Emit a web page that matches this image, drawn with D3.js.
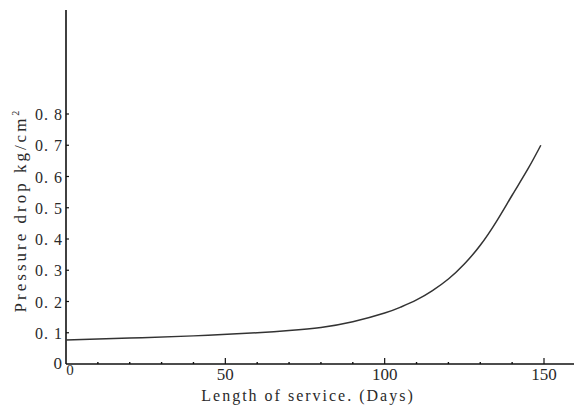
<!DOCTYPE html>
<html>
<head>
<meta charset="utf-8">
<script src="https://cdn.jsdelivr.net/npm/d3@7"></script>
<style>
  body { margin: 0; background: #fff; }
  text { font-family: "Liberation Serif", "DejaVu Serif", serif; fill: #2a2a2a; }
</style>
</head>
<body>
<div class="chart"></div>
<script>
// values
const days = [0, 20, 40, 60, 70, 80, 90, 100, 105, 110, 115, 120, 125, 130, 135, 140, 145, 149];
const pressure = [0.077, 0.083, 0.09, 0.1, 0.107, 0.117, 0.135, 0.163, 0.182, 0.205, 0.235, 0.272, 0.32, 0.38, 0.455, 0.54, 0.625, 0.70];
const yTicks = [0.1, 0.2, 0.3, 0.4, 0.5, 0.6, 0.7, 0.8];
const xMajor = [50, 100, 150];
const xMinor = [10, 20, 30, 40, 60, 70, 80, 90, 110, 120, 130, 140];

const width = 574, height = 405;
const x0 = 66, y0 = 364;

const xScale = d3.scaleLinear().domain([0, 150]).range([x0, 544]);
const yScale = d3.scaleLinear().domain([0, 0.8]).range([y0, 114]);

const svg = d3.select(".chart").append("svg")
  .attr("width", width)
  .attr("height", height);

// axis lines
svg.append("line")
  .attr("x1", x0).attr("x2", x0)
  .attr("y1", 10).attr("y2", y0)
  .attr("stroke", "#111").attr("stroke-width", 1.6);
svg.append("line")
  .attr("x1", x0).attr("x2", width)
  .attr("y1", y0).attr("y2", y0)
  .attr("stroke", "#111").attr("stroke-width", 1.6);

// y ticks, pointing inward
svg.append("g").selectAll("line")
  .data(yTicks)
  .join("line")
  .attr("x1", x0).attr("x2", x0 + 3)
  .attr("y1", d => yScale(d)).attr("y2", d => yScale(d))
  .attr("stroke", "#111").attr("stroke-width", 1.2);

svg.append("g").selectAll("text")
  .data(yTicks)
  .join("text")
  .attr("x", x0 - 3)
  .attr("y", d => yScale(d) + 6)
  .attr("text-anchor", "end")
  .style("font-size", "16px")
  .style("letter-spacing", "1px")
  .text(d => d3.format(".1f")(d).replace(".", ". "));

// the two zeros at the origin
svg.append("text")
  .attr("x", x0 - 4).attr("y", y0 + 5)
  .attr("text-anchor", "end")
  .style("font-size", "17px")
  .text("0");
svg.append("text")
  .attr("x", x0 + 4).attr("y", y0 + 11)
  .attr("text-anchor", "middle")
  .style("font-size", "15px")
  .text("0");

// x ticks
svg.append("g").selectAll("line")
  .data(xMajor)
  .join("line")
  .attr("x1", d => xScale(d)).attr("x2", d => xScale(d))
  .attr("y1", y0).attr("y2", y0 - 6)
  .attr("stroke", "#111").attr("stroke-width", 1.2);

svg.append("g").selectAll("line")
  .data(xMinor)
  .join("line")
  .attr("x1", d => xScale(d)).attr("x2", d => xScale(d))
  .attr("y1", y0).attr("y2", y0 - 2)
  .attr("stroke", "#111").attr("stroke-width", 1.4);

svg.append("g").selectAll("text")
  .data(xMajor)
  .join("text")
  .attr("x", d => xScale(d))
  .attr("y", y0 + 16)
  .attr("text-anchor", "middle")
  .style("font-size", "17px")
  .text(d => d);

// axis titles
svg.append("text")
  .attr("x", 308).attr("y", 401)
  .attr("text-anchor", "middle")
  .style("font-size", "16px")
  .style("letter-spacing", "2px")
  .text("Length of  service. (Days)");

svg.append("text")
  .attr("transform", "translate(26,210) rotate(-90)")
  .attr("text-anchor", "middle")
  .style("font-size", "17px")
  .style("letter-spacing", "3px")
  .html('Pressure drop kg/cm<tspan dy="-7" font-size="10px">2</tspan>');

// curve
const line = d3.line()
  .x((d, i) => xScale(days[i]))
  .y(d => yScale(d))
  .curve(d3.curveNatural);

svg.append("path")
  .datum(pressure)
  .attr("d", line)
  .attr("fill", "none")
  .attr("stroke", "#333")
  .attr("stroke-width", 1.5);
</script>
</body>
</html>
